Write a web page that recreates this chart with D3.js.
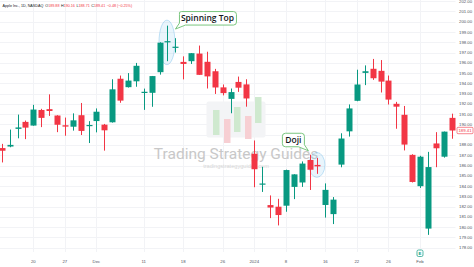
<!DOCTYPE html>
<html>
<head>
<meta charset="utf-8">
<script src="https://cdn.jsdelivr.net/npm/d3@7"></script>
<style>
  html, body { margin: 0; padding: 0; background: #fff; }
  svg { display: block; font-family: "Liberation Sans", Arial, sans-serif; }
</style>
</head>
<body>
<div id="chart"></div>
<script>
// AAPL daily, Nov 14 2023 - Feb 7 2024
const dates = [
  '2023-11-14', '2023-11-15', '2023-11-16', '2023-11-17', '2023-11-20', '2023-11-21', '2023-11-22', '2023-11-24',
  '2023-11-27', '2023-11-28', '2023-11-29', '2023-11-30', '2023-12-01', '2023-12-04', '2023-12-05', '2023-12-06',
  '2023-12-07', '2023-12-08', '2023-12-11', '2023-12-12', '2023-12-13', '2023-12-14', '2023-12-15', '2023-12-18',
  '2023-12-19', '2023-12-20', '2023-12-21', '2023-12-22', '2023-12-26', '2023-12-27', '2023-12-28', '2023-12-29',
  '2024-01-02', '2024-01-03', '2024-01-04', '2024-01-05', '2024-01-08', '2024-01-09', '2024-01-10', '2024-01-11',
  '2024-01-12', '2024-01-16', '2024-01-17', '2024-01-18', '2024-01-19', '2024-01-22', '2024-01-23', '2024-01-24',
  '2024-01-25', '2024-01-26', '2024-01-29', '2024-01-30', '2024-01-31', '2024-02-01', '2024-02-02', '2024-02-05',
  '2024-02-06', '2024-02-07',
];
const open = [
  187.70, 187.85, 189.57, 190.25, 189.89, 191.41, 191.49, 190.87, 189.92, 189.78, 190.90, 189.84,
  190.33, 189.98, 190.21, 194.45, 193.63, 194.20, 193.11, 193.08, 195.09, 198.02, 197.53, 196.09,
  196.16, 196.90, 196.10, 195.18, 193.61, 192.49, 194.14, 193.90,
  187.15, 184.22, 182.15, 181.99, 182.09, 183.92, 184.35, 186.54, 186.06, 182.16, 181.27, 186.09,
  189.33, 192.30, 195.02, 195.42, 195.22, 194.27, 192.01, 190.94, 187.04,
  183.99, 179.86, 188.15, 186.86, 190.64,
];
const high = [
  188.11, 189.50, 190.96, 190.38, 191.91, 191.52, 192.93, 190.90, 190.67, 191.08, 192.09, 190.32,
  191.56, 190.05, 194.40, 194.76, 195.00, 195.99, 193.49, 194.72, 198.00, 199.62, 198.40, 196.63,
  196.95, 197.68, 197.08, 195.41, 193.89, 193.50, 194.66, 194.40,
  188.44, 185.88, 183.09, 182.76, 185.60, 185.15, 186.40, 187.05, 186.74, 184.26, 182.93, 189.14,
  191.95, 195.33, 195.75, 196.38, 196.27, 194.76, 192.20, 191.80, 187.10,
  186.95, 187.33, 189.25, 189.31, 191.05,
];
const low = [
  186.30, 187.78, 188.65, 188.57, 189.88, 189.74, 190.83, 189.25, 188.90, 189.40, 188.97, 188.19,
  189.23, 187.45, 190.18, 192.11, 193.59, 193.67, 191.42, 191.72, 194.85, 196.16, 197.00, 194.39,
  195.89, 194.83, 193.50, 192.97, 192.83, 191.09, 193.17, 191.73,
  183.89, 183.43, 180.88, 180.17, 181.50, 182.73, 183.92, 183.62, 185.19, 180.93, 180.30, 185.83,
  188.82, 192.26, 193.83, 194.34, 193.11, 191.94, 189.58, 187.47, 184.35,
  183.82, 179.25, 185.84, 186.77, 188.61,
];
const close = [
  187.44, 188.01, 189.71, 189.69, 191.45, 190.64, 191.31, 189.97, 189.79, 190.40, 189.37, 189.95,
  191.24, 189.43, 193.42, 192.32, 194.27, 195.71, 193.18, 194.71, 197.96, 198.11, 197.57, 195.89,
  196.94, 194.83, 194.68, 193.60, 193.05, 193.15, 193.58, 192.53,
  185.64, 184.25, 181.91, 181.18, 185.56, 185.14, 186.19, 185.59, 185.92, 183.63, 182.68, 188.63,
  191.56, 193.89, 195.18, 194.50, 194.17, 192.42, 191.73, 188.04, 184.40,
  186.86, 185.85, 187.68, 189.30, 189.41,
];

const timeTicks = ['2023-11-20', '2023-11-27', '2023-12-01', '2023-12-11', '2023-12-18', '2023-12-26',
  '2024-01-02', '2024-01-08', '2024-01-16', '2024-01-22', '2024-01-26', '2024-02-01'];
const timeTickLabels = ['20', '27', 'Dec', '11', '18', '26', '2024', '8', '16', '22', '26', 'Feb'];
const priceTicks = d3.range(178, 203, 1);

const header = {
  symbol: 'Apple Inc., 1D, NASDAQ',
  ohlc: [['O', '189.88'], ['H', '190.16'], ['L', '188.71'], ['C', '189.41']],
  change: '\u22120.48 (\u22120.25%)',
};
const notes = [
  { date: '2023-12-14', text: 'Spinning Top' },
  { date: '2024-01-12', text: 'Doji' },
];

const width = 474;
const height = 267;
const plotRight = 455.5;
const plotBottom = 252;
const green = '#089981';
const red = '#f23645';

const candles = dates.map((d, i) => ({
  date: d, o: open[i], h: high[i], l: low[i], c: close[i],
}));

const svg = d3.select('#chart')
  .append('svg')
  .attr('width', width)
  .attr('height', height);

const x = d3.scaleBand()
  .domain(dates)
  .range([-2.2, plotRight])
  .padding(0);

const xc = d => x(d) + x.bandwidth() / 2;

const y = d3.scaleLinear()
  .domain([178, 202])
  .range([247.7, 1.2]);

// grid
svg.append('g')
  .attr('class', 'grid-y')
  .selectAll('line')
  .data(priceTicks)
  .enter()
  .append('line')
  .attr('x1', 0)
  .attr('x2', plotRight)
  .attr('y1', d => Math.round(y(d)) + 0.5)
  .attr('y2', d => Math.round(y(d)) + 0.5)
  .attr('stroke', '#f2f3f6')
  .attr('stroke-width', 1);

svg.append('g')
  .attr('class', 'grid-x')
  .selectAll('line')
  .data(timeTicks)
  .enter()
  .append('line')
  .attr('x1', d => Math.round(xc(d)) + 0.5)
  .attr('x2', d => Math.round(xc(d)) + 0.5)
  .attr('y1', 0)
  .attr('y2', plotBottom)
  .attr('stroke', '#f2f3f6')
  .attr('stroke-width', 1);

// watermark
const wm = svg.append('g').attr('class', 'watermark');
const wmX = 236;
wm.append('rect')
  .attr('x', wmX - 29.5)
  .attr('y', 101.5)
  .attr('width', 59)
  .attr('height', 36)
  .attr('rx', 2)
  .attr('fill', '#f3f4f6');
const logoBars = [
  { dx: -20, y0: 110, y1: 135, c: '#cfe9cf' },
  { dx: -9, y0: 119, y1: 143, c: '#f7cfd3' },
  { dx: 1, y0: 107, y1: 132, c: '#cfe9cf' },
  { dx: 12, y0: 116, y1: 139, c: '#f7cfd3' },
  { dx: 22, y0: 97, y1: 123, c: '#cfe9cf' },
];
wm.selectAll('.logo-bar')
  .data(logoBars)
  .enter()
  .append('rect')
  .attr('class', 'logo-bar')
  .attr('x', d => wmX + d.dx - 3)
  .attr('y', d => d.y0)
  .attr('width', 6.5)
  .attr('height', d => d.y1 - d.y0)
  .attr('fill', d => d.c);
wm.append('text')
  .attr('x', wmX)
  .attr('y', 158.5)
  .attr('text-anchor', 'middle')
  .attr('font-family', 'Roboto, "Liberation Sans", sans-serif')
  .attr('font-size', 15.5)
  .attr('fill', '#c8c8c8')
  .text('Trading Strategy Guides');
wm.append('text')
  .attr('x', wmX)
  .attr('y', 167.5)
  .attr('text-anchor', 'middle')
  .attr('font-size', 5.6)
  .attr('fill', '#d6d6d6')
  .text('tradingstrategyguides.com');

// highlight ellipses
const ell = svg.append('g').attr('class', 'highlights');
ell.selectAll('ellipse')
  .data(notes)
  .enter()
  .append('ellipse')
  .attr('cx', d => xc(d.date) - 0.5)
  .attr('cy', d => {
    const c = candles.find(e => e.date === d.date);
    return (y(c.h) + y(c.l)) / 2 - 1;
  })
  .attr('rx', 8)
  .attr('ry', d => {
    const c = candles.find(e => e.date === d.date);
    return (y(c.l) - y(c.h)) / 2 + 4.5;
  })
  .attr('fill', 'rgba(120,190,235,0.16)')
  .attr('stroke', 'rgba(120,190,235,0.55)')
  .attr('stroke-width', 0.8);

// candles
const candle = svg.append('g')
  .attr('class', 'candles')
  .selectAll('g')
  .data(candles)
  .enter()
  .append('g')
  .attr('fill', d => (d.c >= d.o ? green : red))
  .attr('stroke', d => (d.c >= d.o ? green : red));

candle.append('line')
  .attr('x1', d => Math.round(xc(d.date)) + 0.5)
  .attr('x2', d => Math.round(xc(d.date)) + 0.5)
  .attr('y1', d => y(d.h))
  .attr('y2', d => y(d.l))
  .attr('stroke-width', 1);

const bodyW = 6;
candle.append('rect')
  .attr('x', d => Math.round(xc(d.date)) + 0.5 - bodyW / 2)
  .attr('y', d => y(Math.max(d.o, d.c)))
  .attr('width', bodyW)
  .attr('height', d => Math.max(1.2, Math.abs(y(d.o) - y(d.c))))
  .attr('stroke', 'none');

// callouts
const callout = (cx, cy, w, h, tail, label) => {
  const g = svg.append('g').attr('class', 'callout');
  const r = 3;
  const x0 = cx - w / 2;
  const y0 = cy - h / 2;
  const x1 = x0 + w;
  const y1 = y0 + h;
  let p;
  if (tail === 'left') {
    p = `M${x0 + r},${y0} H${x1 - r} Q${x1},${y0} ${x1},${y0 + r} V${y1 - r} Q${x1},${y1} ${x1 - r},${y1}`
      + ` H${x0 + 7} L${x0 - 3},${y1 + 4} L${x0 + 1},${y1 - 2} V${y0 + r} Q${x0},${y0} ${x0 + r},${y0} Z`;
  } else {
    p = `M${x0 + r},${y0} H${x1 - r} Q${x1},${y0} ${x1},${y0 + r} V${y1 - 2} L${x1 + 4},${y1 + 4}`
      + ` L${x1 - 6},${y1} H${x0 + r} Q${x0},${y1} ${x0},${y1 - r} V${y0 + r} Q${x0},${y0} ${x0 + r},${y0} Z`;
  }
  g.append('path')
    .attr('d', p)
    .attr('fill', '#fff')
    .attr('stroke', '#6cc070')
    .attr('stroke-width', 0.9);
  g.append('text')
    .attr('x', cx)
    .attr('y', cy + 3)
    .attr('text-anchor', 'middle')
    .attr('font-family', '"Open Sans", sans-serif')
    .attr('font-weight', 600)
    .attr('font-size', 8.5)
    .attr('fill', '#131722')
    .text(label);
};
callout(xc(notes[0].date) + 40, 18.3, 58, 13.5, 'left', notes[0].text);
callout(xc(notes[1].date) - 24, 140, 22, 13.5, 'right', notes[1].text);

// price axis
const last = candles[candles.length - 1];
const lastY = y(last.c);
svg.append('g')
  .attr('class', 'price-axis')
  .selectAll('text')
  .data(priceTicks.filter(v => Math.abs(y(v) - lastY) > 5))
  .enter()
  .append('text')
  .attr('x', 459)
  .attr('y', d => y(d) + 1.5)
  .attr('font-size', 4.3)
  .attr('fill', '#50535e')
  .text(d => d3.format('.2f')(d));

svg.append('rect')
  .attr('x', 457)
  .attr('y', lastY - 3.2)
  .attr('width', 16)
  .attr('height', 6.4)
  .attr('rx', 1)
  .attr('fill', '#fff')
  .attr('stroke', last.c >= last.o ? green : red)
  .attr('stroke-width', 0.6);
svg.append('text')
  .attr('x', 465)
  .attr('y', lastY + 1.5)
  .attr('text-anchor', 'middle')
  .attr('font-size', 4.3)
  .attr('fill', last.c >= last.o ? green : red)
  .text(d3.format('.2f')(last.c));

// time axis
svg.append('g')
  .attr('class', 'time-axis')
  .selectAll('text')
  .data(timeTicks)
  .enter()
  .append('text')
  .attr('x', d => xc(d))
  .attr('y', 262.5)
  .attr('text-anchor', 'middle')
  .attr('font-size', 4.3)
  .attr('fill', '#50535e')
  .text((d, i) => timeTickLabels[i]);

// earnings marker
const ex = xc('2024-02-01');
svg.append('rect')
  .attr('x', ex - 3)
  .attr('y', 250)
  .attr('width', 6)
  .attr('height', 6.5)
  .attr('rx', 1.5)
  .attr('fill', '#fff')
  .attr('stroke', green)
  .attr('stroke-width', 0.7);
svg.append('text')
  .attr('x', ex)
  .attr('y', 255)
  .attr('text-anchor', 'middle')
  .attr('font-size', 4.2)
  .attr('font-weight', 700)
  .attr('fill', green)
  .text('E');

// legend
const legend = svg.append('text')
  .attr('x', 2.5)
  .attr('y', 6.5)
  .attr('font-size', 3.7)
  .attr('fill', '#131722');
legend.append('tspan').text(header.symbol);
header.ohlc.forEach(([k, v], i) => {
  legend.append('tspan').attr('dx', i === 0 ? 2 : 1.5).text(k);
  legend.append('tspan').attr('fill', red).text(v);
});
legend.append('tspan').attr('dx', 1.5).attr('fill', red).text(header.change);
</script>
</body>
</html>
